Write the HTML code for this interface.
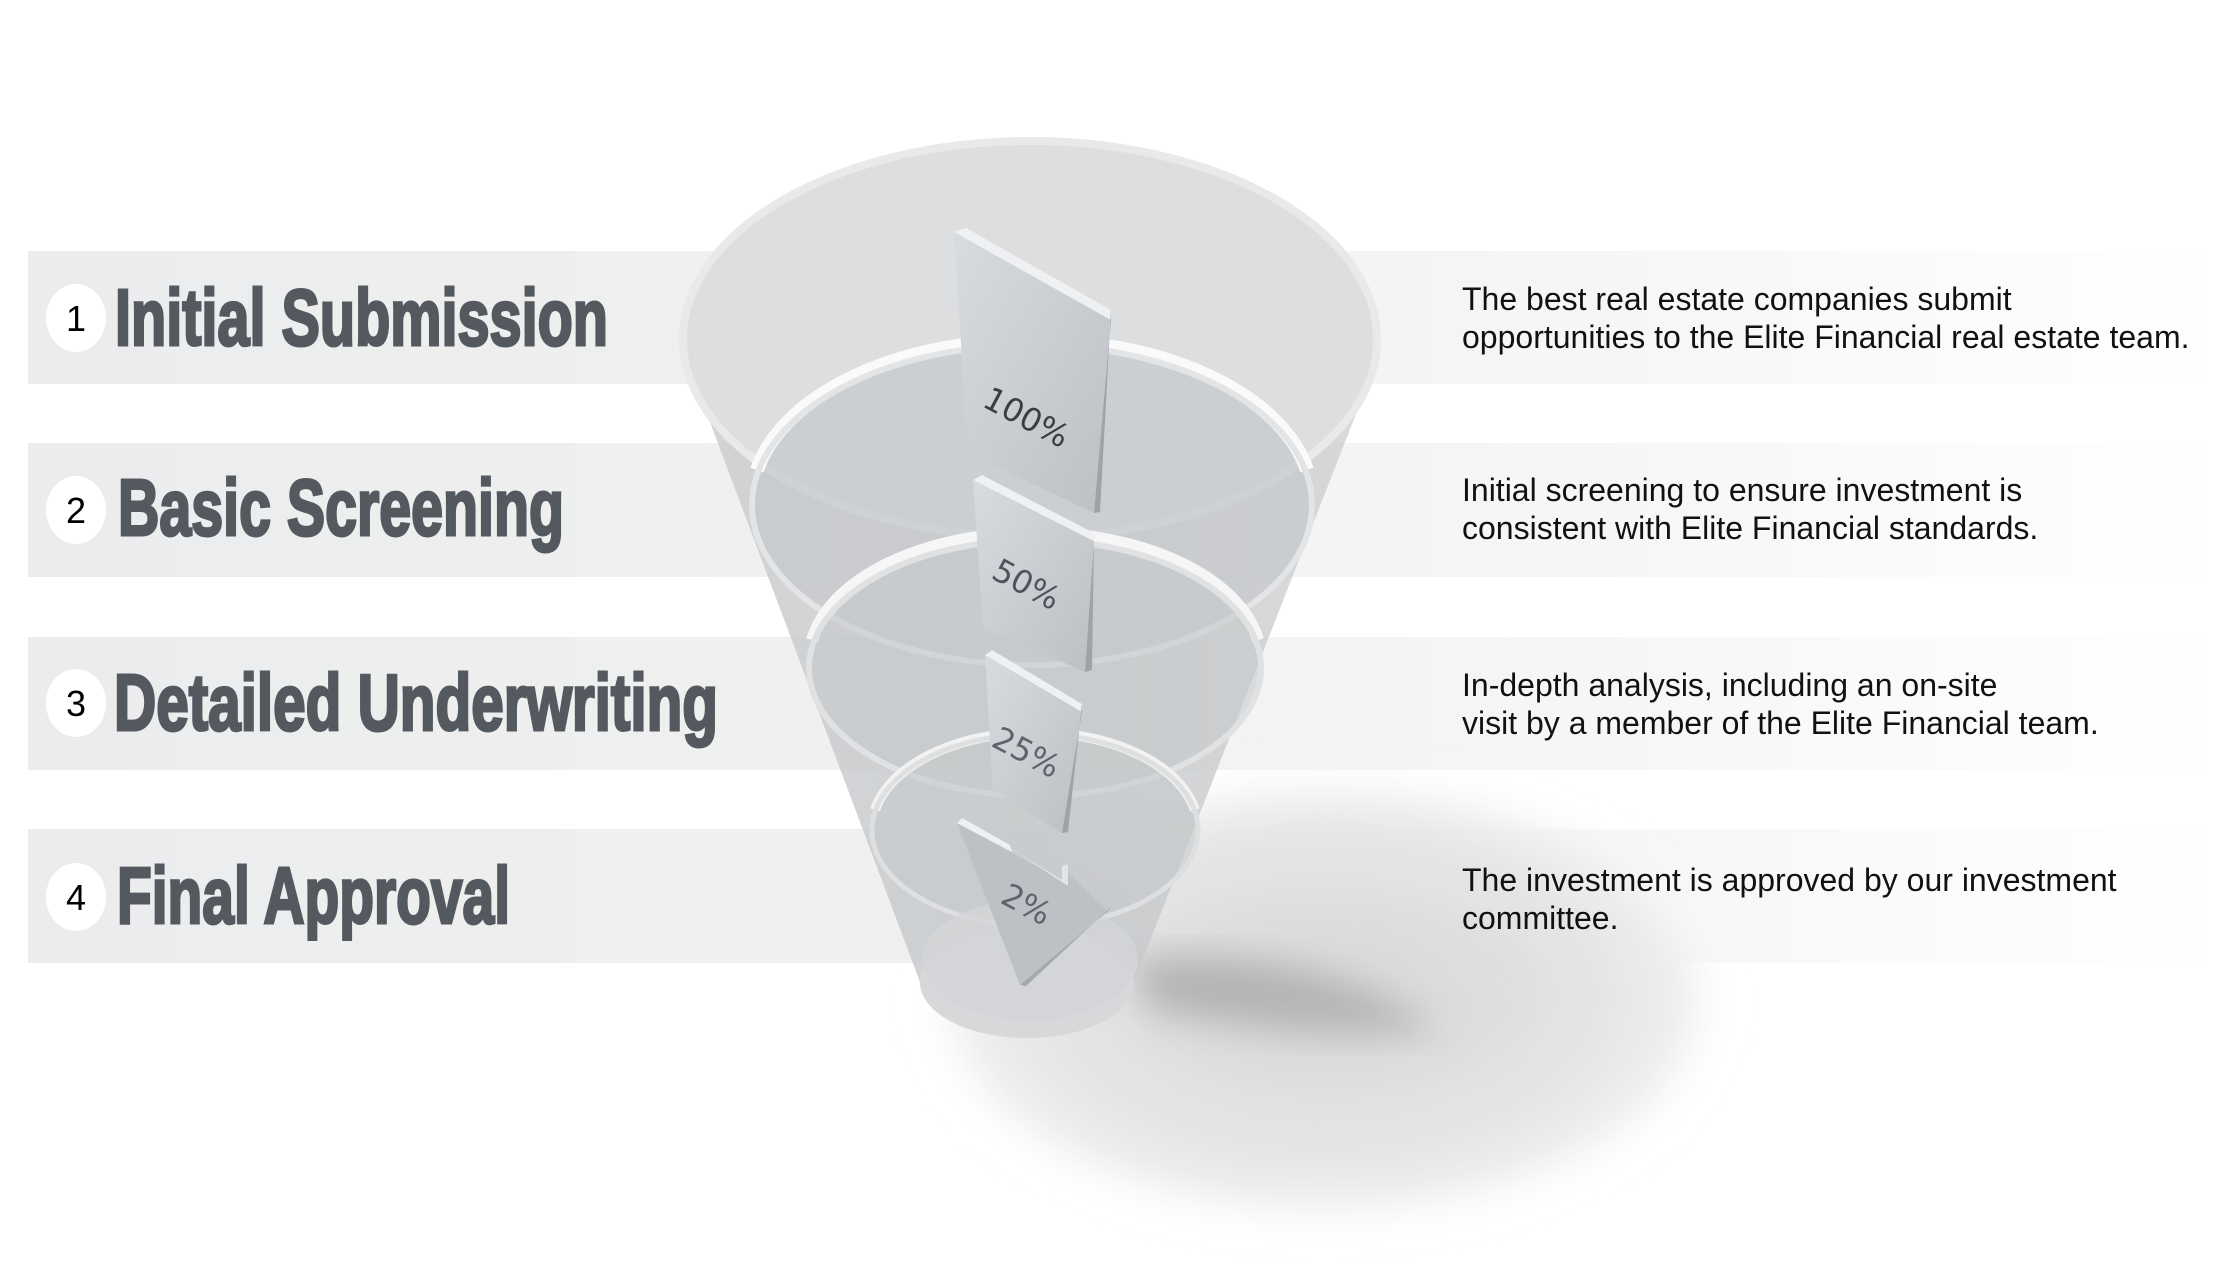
<!DOCTYPE html>
<html><head><meta charset="utf-8"><style>
html,body{margin:0;padding:0;background:#fff;width:2222px;height:1288px;overflow:hidden}
</style></head><body>
<svg width="2222" height="1288" viewBox="0 0 2222 1288" xmlns="http://www.w3.org/2000/svg">
<defs>
<linearGradient id="band" x1="0" x2="1" y1="0" y2="0">
<stop offset="0" stop-color="#ebeced"/><stop offset="0.45" stop-color="#f1f1f1"/><stop offset="0.75" stop-color="#f7f7f7"/><stop offset="1" stop-color="#fff"/>
</linearGradient>
<radialGradient id="shadow" cx="0.5" cy="0.5" r="0.5">
<stop offset="0" stop-color="#d6d6d6"/><stop offset="0.6" stop-color="#e2e2e2"/><stop offset="0.9" stop-color="#eeeeee"/><stop offset="1" stop-color="#fff" stop-opacity="0"/>
</radialGradient>
<filter id="blur" x="-30%" y="-30%" width="160%" height="160%"><feGaussianBlur stdDeviation="18"/></filter>
<linearGradient id="cone" x1="0" x2="1">
<stop offset="0" stop-color="#c9cbce"/><stop offset="0.5" stop-color="#c2c5c8"/><stop offset="1" stop-color="#cfd1d3"/>
</linearGradient>
<linearGradient id="plate" x1="0" x2="1" y1="0" y2="1">
<stop offset="0" stop-color="#d8dbdf"/><stop offset="1" stop-color="#bcc0c5"/>
</linearGradient>
</defs>

<rect x="28" y="251" width="2194" height="133" fill="url(#band)"/>
<rect x="28" y="443" width="2194" height="134" fill="url(#band)"/>
<rect x="28" y="637" width="2194" height="133" fill="url(#band)"/>
<rect x="28" y="829" width="2194" height="134" fill="url(#band)"/>

<ellipse cx="1324" cy="1000" rx="400" ry="225" fill="url(#shadow)" filter="url(#blur)"/>
<ellipse cx="1330" cy="990" rx="250" ry="130" fill="none" stroke="#e4e4e4" stroke-width="30" filter="url(#blur)"/>
<path d="M1130 960 Q1300 940 1440 1030 Q1300 1040 1150 1010 Z" fill="#b4b4b4" filter="url(#blur)"/>

<!-- funnel body -->
<path d="M683 350 L920 982 A107 56 0 0 0 1134 982 L1381 350 Z" fill="url(#cone)" opacity="0.8"/>
<ellipse cx="1027" cy="982" rx="107" ry="56" fill="#d6d8da"/>
<ellipse cx="1030" cy="339" rx="347" ry="198" fill="#dcdee0" stroke="#e8e9ea" stroke-width="8"/>
<!-- ring bands -->
<ellipse cx="1032" cy="505" rx="280" ry="160" fill="#c7cacd" opacity="0.75"/>
<path d="M757 470 A280 160 0 0 1 1307 470" fill="none" stroke="#fafafa" stroke-width="14"/>
<ellipse cx="1032" cy="505" rx="280" ry="160" fill="none" stroke="#e3e4e5" stroke-width="6"/>
<ellipse cx="1035" cy="668" rx="226" ry="128" fill="#c6c9cc" opacity="0.6"/>
<path d="M812 640 A226 128 0 0 1 1258 640" fill="none" stroke="#f6f6f6" stroke-width="12"/>
<ellipse cx="1035" cy="668" rx="226" ry="128" fill="none" stroke="#e0e1e2" stroke-width="6"/>
<ellipse cx="1035" cy="830" rx="163" ry="96" fill="#c6c9cc" opacity="0.6"/>
<path d="M875 810 A163 96 0 0 1 1195 810" fill="none" stroke="#f2f2f2" stroke-width="10"/>
<ellipse cx="1035" cy="830" rx="163" ry="96" fill="none" stroke="#dedfe0" stroke-width="5"/>
<ellipse cx="1030" cy="960" rx="108" ry="60" fill="#d3d5d7" opacity="0.8"/>

<!-- plates -->
<polygon points="954,232 1111,320 1094,513 968,453" fill="url(#plate)"/>
<polygon points="954,232 966,228 1111,310 1111,320" fill="#eef0f2"/>
<polygon points="1111,320 1111,310 1100,512 1094,513" fill="#9fa3a8"/>
<text x="1025" y="428" font-family="'DejaVu Sans',sans-serif" font-size="32" fill="#3a3d41" transform="rotate(28 1025 420)" text-anchor="middle">100%</text>

<polygon points="973,480 1094,541 1085,672 983,627" fill="url(#plate)"/>
<polygon points="973,480 982,475 1094,533 1094,541" fill="#eef0f2"/>
<polygon points="1094,541 1094,533 1092,670 1085,672" fill="#9fa3a8"/>
<text x="1025" y="595" font-family="'DejaVu Sans',sans-serif" font-size="32" fill="#50545a" transform="rotate(28 1025 587)" text-anchor="middle">50%</text>

<polygon points="985,655 1082,712 1062,833 993,790" fill="url(#plate)"/>
<polygon points="985,655 992,650 1082,704 1082,712" fill="#eef0f2"/>
<polygon points="1082,712 1082,704 1068,832 1062,833" fill="#9fa3a8"/>
<text x="1025" y="763" font-family="'DejaVu Sans',sans-serif" font-size="32" fill="#60646a" transform="rotate(28 1025 755)" text-anchor="middle">25%</text>

<polygon points="957,823 1062,880 1065,870 1108,911 1020,985" fill="#bdc1c6"/>
<polygon points="957,823 962,818 1010,845 1012,852" fill="#eef0f2"/>
<polygon points="1010,848 1062,880 1062,866 1068,864 1068,886" fill="#e2e4e6"/>
<polygon points="1108,911 1112,906 1026,986 1020,985" fill="#a5a9ae"/>
<text x="1025" y="915" font-family="'DejaVu Sans',sans-serif" font-size="32" fill="#60646a" transform="rotate(28 1025 907)" text-anchor="middle">2%</text>

<g font-family="'Liberation Sans',sans-serif">
<ellipse cx="76" cy="318" rx="30" ry="34" fill="#fff"/>
<text x="76" y="331" font-size="36" text-anchor="middle" fill="#000">1</text>
<ellipse cx="76" cy="510" rx="30" ry="34" fill="#fff"/>
<text x="76" y="523" font-size="36" text-anchor="middle" fill="#000">2</text>
<ellipse cx="76" cy="703" rx="30" ry="34" fill="#fff"/>
<text x="76" y="716" font-size="36" text-anchor="middle" fill="#000">3</text>
<ellipse cx="76" cy="897" rx="30" ry="34" fill="#fff"/>
<text x="76" y="910" font-size="36" text-anchor="middle" fill="#000">4</text>
</g>
<g font-family="'Liberation Sans Narrow','Liberation Sans',sans-serif" font-weight="bold" font-size="80" fill="#545960" stroke="#545960" stroke-width="3">
<text x="115" y="345" textLength="493" lengthAdjust="spacingAndGlyphs">Initial Submission</text>
<text x="118" y="535" textLength="446" lengthAdjust="spacingAndGlyphs">Basic Screening</text>
<text x="114" y="730" textLength="604" lengthAdjust="spacingAndGlyphs">Detailed Underwriting</text>
<text x="117" y="923" textLength="393" lengthAdjust="spacingAndGlyphs">Final Approval</text>
</g>

<g font-family="'Liberation Sans',sans-serif" font-size="32" fill="#111">
<text x="1462" y="310">The best real estate companies submit</text>
<text x="1462" y="348">opportunities to the Elite Financial real estate team.</text>
<text x="1462" y="501">Initial screening to ensure investment is</text>
<text x="1462" y="539"> consistent with Elite Financial standards.</text>
<text x="1462" y="696">In-depth analysis, including an on-site</text>
<text x="1462" y="734">visit by a member of the Elite Financial team.</text>
<text x="1462" y="891">The investment is approved by our investment</text>
<text x="1462" y="929">committee.</text>
</g>
</svg>
</body></html>
